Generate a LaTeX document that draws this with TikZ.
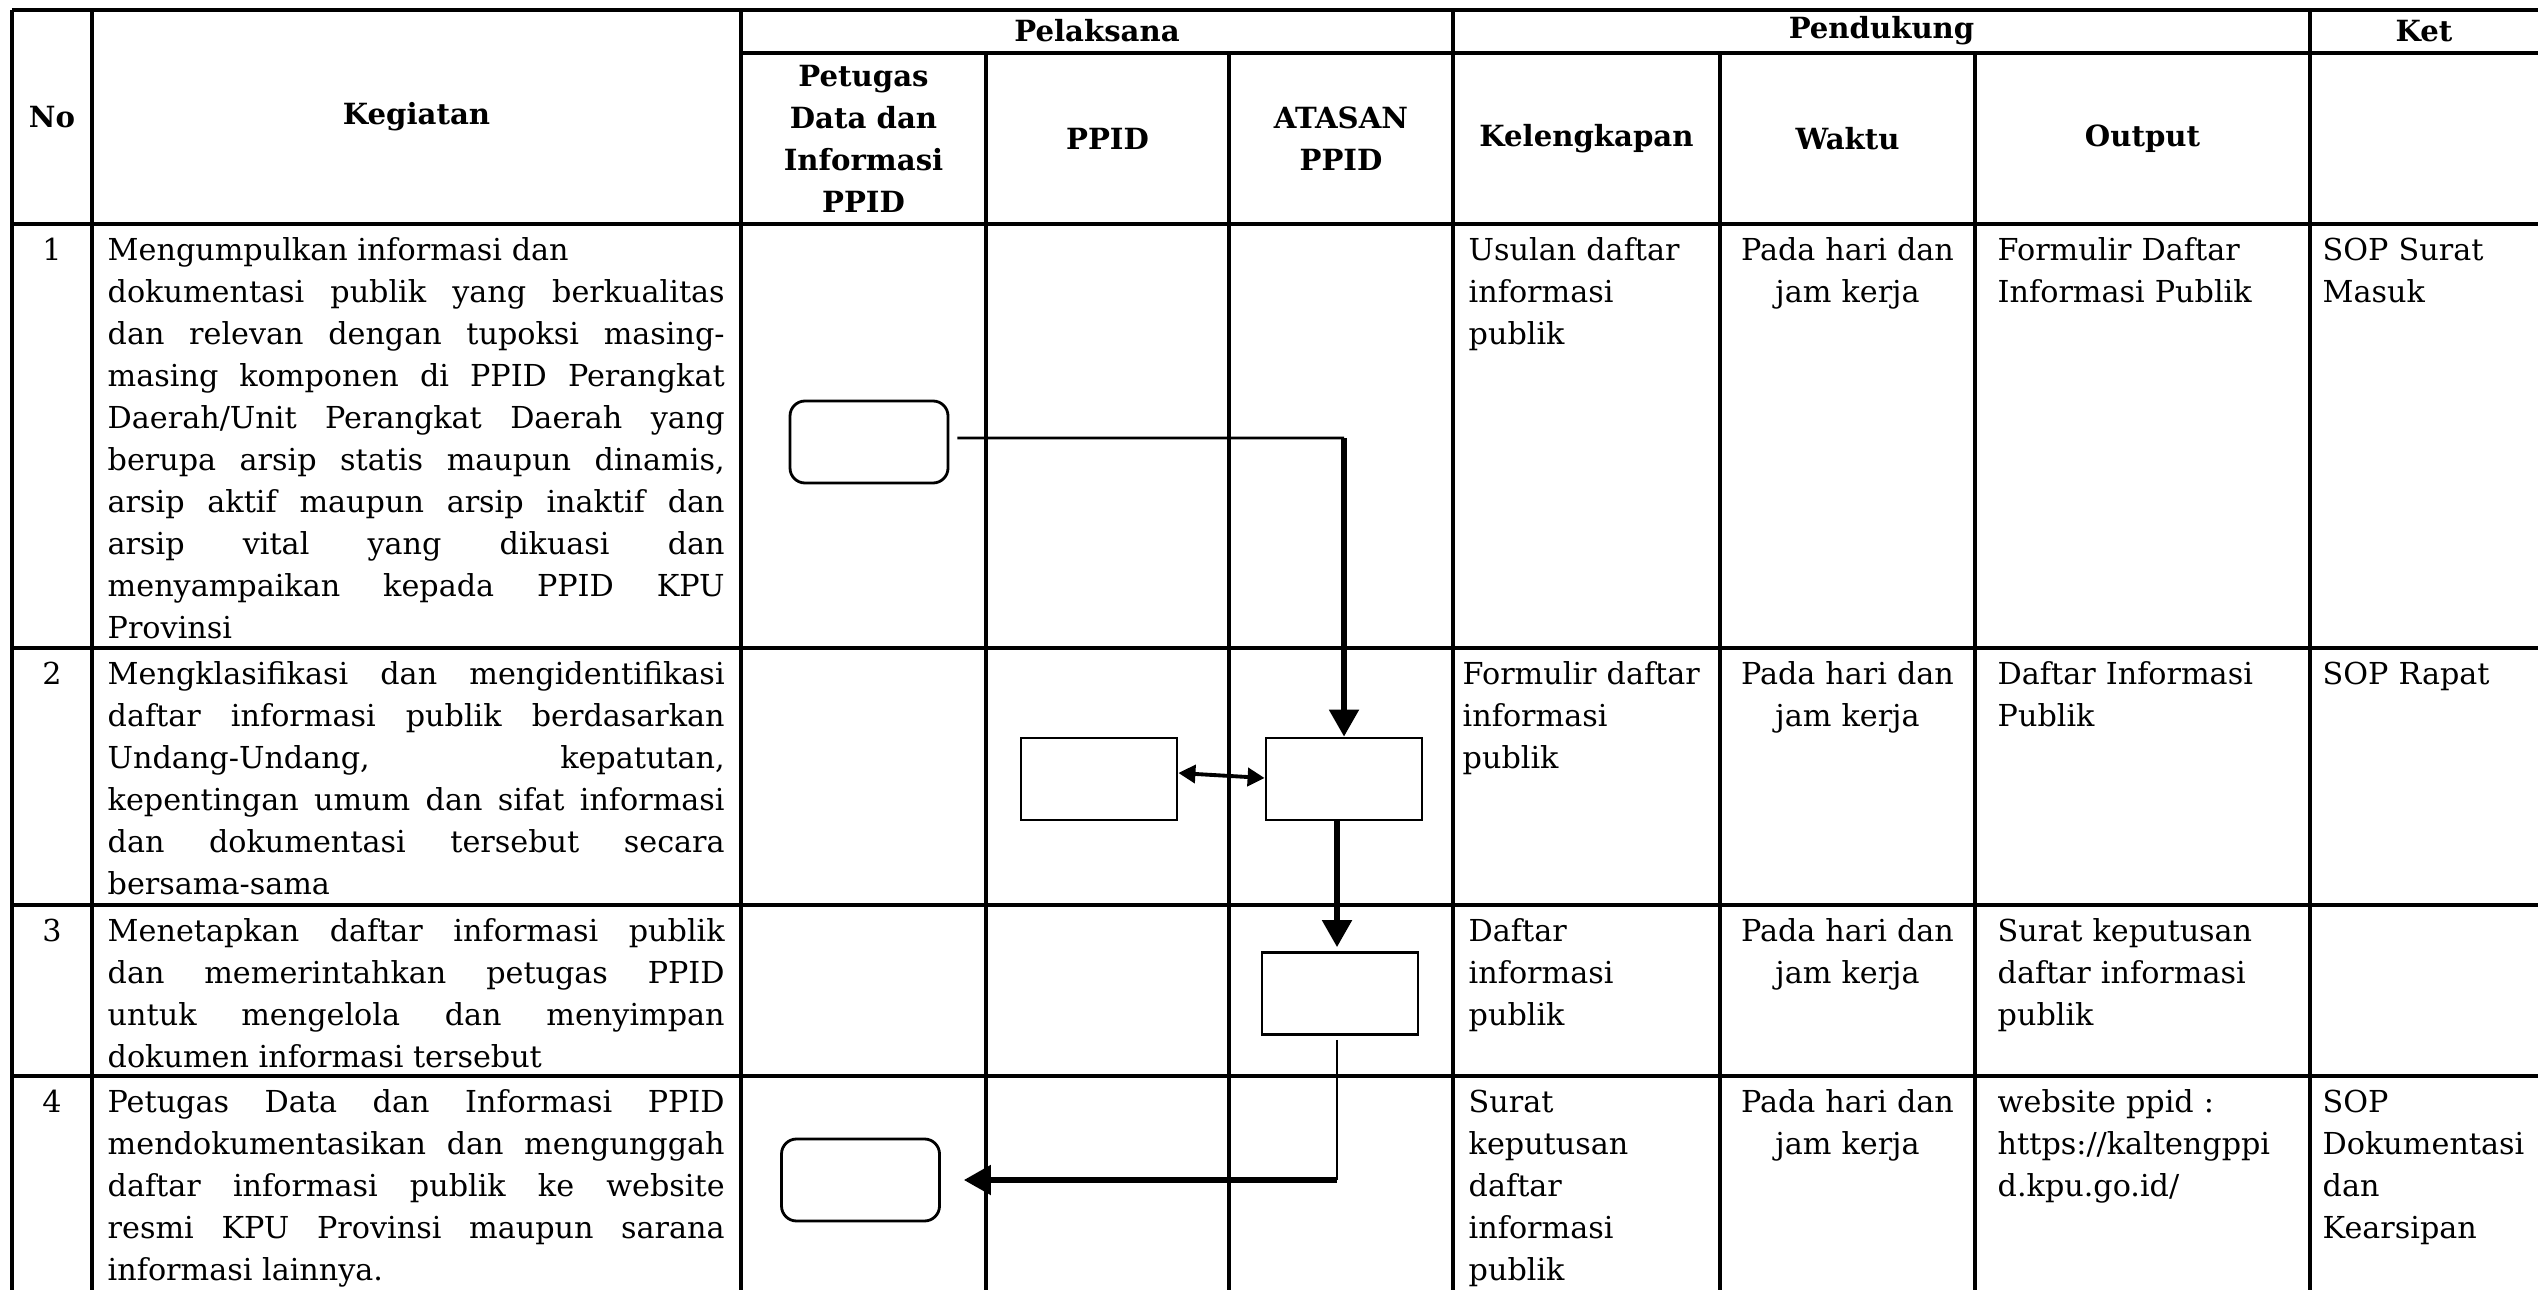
\documentclass[tikz,border=0pt]{standalone}
\usepackage{fontspec}
\setmainfont{DejaVu Serif}
\usetikzlibrary{arrows.meta}
\setlength{\parindent}{0pt}
\tolerance=10000
\hbadness=10000
\hyphenpenalty=10000

\newcommand{\hurufisi}{\fontsize{8.6}{11.95}\selectfont}
\newcommand{\hurufjudul}{\fontsize{8.3}{11.95}\selectfont\bfseries}

\tikzset{
  garis/.style={line width=0.9pt},
  judul/.style={font=\hurufjudul, align=center, inner sep=0pt},
  isi/.style={font=\hurufisi, anchor=north west, inner sep=0pt, align=left},
  rata/.style={isi, text width=6.17cm, align=justify},
  kotak/.style={draw, line width=0.8pt, minimum width=1.56cm, minimum height=0.82cm, inner sep=0pt},
  kotakbulat/.style={kotak, rounded corners=0.15cm, minimum width=1.58cm},
  tipis/.style={line width=0.8pt},
  tebal/.style={line width=1.5pt, -{Triangle[length=0.27cm, width=0.29cm]}},
  dua/.style={line width=1.1pt, {Triangle[length=0.17cm, width=0.18cm]}-{Triangle[length=0.17cm, width=0.18cm]}}
}

\begin{document}
\begin{tikzpicture}
\useasboundingbox (0,0) rectangle (25.38,12.90);

% garis tabel
\draw[garis] (0.12,12.80) -- (25.38,12.80);
\draw[garis] (7.41,12.37) -- (25.38,12.37);
\draw[garis] (0.12,10.66) -- (25.38,10.66);
\draw[garis] (0.12,6.42) -- (25.38,6.42);
\draw[garis] (0.12,3.85) -- (25.38,3.85);
\draw[garis] (0.12,2.14) -- (25.38,2.14);
\foreach \x in {0.12,0.92,7.41,14.53,23.10}
  \draw[garis] (\x,12.80) -- (\x,0);
\foreach \x in {9.86,12.29,17.20,19.75}
  \draw[garis] (\x,12.37) -- (\x,0);

% judul kolom
\node[judul] (hno) at (0.52,11.73) {No};
\node[judul] (hkeg) at (4.165,11.73) {Kegiatan};
\node[judul] (hpel) at (10.97,12.59) {Pelaksana};
\node[judul] (hpen) at (18.815,12.59) {Pendukung};
\node[judul] (hket) at (24.24,12.59) {Ket};
\node[judul] (hpet) at (8.635,11.515) {Petugas\\Data dan\\Informasi\\PPID};
\node[judul] (hppid) at (11.075,11.515) {PPID};
\node[judul] (hata) at (13.41,11.515) {ATASAN\\PPID};
\node[judul] (hlkp) at (15.865,11.515) {Kelengkapan};
\node[judul] (hwkt) at (18.475,11.515) {Waktu};
\node[judul] (hout) at (21.425,11.515) {Output};

% baris 1
\node[isi, anchor=north] (no1) at (0.52,10.595) {\strut 1};
\node[rata] (keg1) at (1.07,10.595) {\strut Mengumpulkan informasi dan\newline
dokumentasi publik yang berkualitas\linebreak
dan relevan dengan tupoksi masing-\linebreak
masing komponen di PPID Perangkat\linebreak
Daerah/Unit Perangkat Daerah yang\linebreak
berupa arsip statis maupun dinamis,\linebreak
arsip aktif maupun arsip inaktif dan\linebreak
arsip vital yang dikuasi dan\linebreak
menyampaikan kepada PPID KPU\linebreak
Provinsi};
\node[isi, text width=2.55cm] (lkp1) at (14.68,10.595) {\strut Usulan daftar\\informasi\\publik};
\node[isi, anchor=north, text width=2.5cm, align=center] (wkt1) at (18.475,10.595) {\strut Pada hari dan\\jam kerja};
\node[isi, text width=3.1cm] (out1) at (19.97,10.595) {\strut Formulir Daftar\\Informasi Publik};
\node[isi, text width=2.15cm] (ket1) at (23.22,10.595) {\strut SOP Surat\\Masuk};

% baris 2
\node[isi, anchor=north] (no2) at (0.52,6.355) {\strut 2};
\node[rata] (keg2) at (1.07,6.355) {\strut Mengklasifikasi dan mengidentifikasi\linebreak
daftar informasi publik berdasarkan\linebreak
Undang-Undang, kepatutan,\linebreak
kepentingan umum dan sifat informasi\linebreak
dan dokumentasi tersebut secara\linebreak
bersama-sama};
\node[isi, text width=2.55cm] (lkp2) at (14.62,6.355) {\strut Formulir daftar\\informasi\\publik};
\node[isi, anchor=north, text width=2.5cm, align=center] (wkt2) at (18.475,6.355) {\strut Pada hari dan\\jam kerja};
\node[isi, text width=3.1cm] (out2) at (19.97,6.355) {\strut Daftar Informasi\\Publik};
\node[isi, text width=2.15cm] (ket2) at (23.22,6.355) {\strut SOP Rapat};

% baris 3
\node[isi, anchor=north] (no3) at (0.52,3.785) {\strut 3};
\node[rata] (keg3) at (1.07,3.785) {\strut Menetapkan daftar informasi publik\linebreak
dan memerintahkan petugas PPID\linebreak
untuk mengelola dan menyimpan\linebreak
dokumen informasi tersebut};
\node[isi, text width=2.55cm] (lkp3) at (14.68,3.785) {\strut Daftar\\informasi\\publik};
\node[isi, anchor=north, text width=2.5cm, align=center] (wkt3) at (18.475,3.785) {\strut Pada hari dan\\jam kerja};
\node[isi, text width=3.1cm] (out3) at (19.97,3.785) {\strut Surat keputusan\\daftar informasi\\publik};

% baris 4
\node[isi, anchor=north] (no4) at (0.52,2.075) {\strut 4};
\node[rata] (keg4) at (1.07,2.075) {\strut Petugas Data dan Informasi PPID\linebreak
mendokumentasikan dan mengunggah\linebreak
daftar informasi publik ke website\linebreak
resmi KPU Provinsi maupun sarana\linebreak
informasi lainnya.};
\node[isi, text width=2.55cm] (lkp4) at (14.68,2.075) {\strut Surat\\keputusan\\daftar\\informasi\\publik};
\node[isi, anchor=north, text width=2.5cm, align=center] (wkt4) at (18.475,2.075) {\strut Pada hari dan\\jam kerja};
\node[isi, text width=3.1cm] (out4) at (19.97,2.075) {\strut website ppid :\\https://kaltengppi\\d.kpu.go.id/};
\node[isi, text width=2.15cm] (ket4) at (23.22,2.075) {\strut SOP\\Dokumentasi\\dan\\Kearsipan};

% bagan alir
\node[kotakbulat] (mulai) at (8.69,8.48) {};
\node[kotak] (ppid2) at (10.99,5.11) {};
\node[kotak] (atasan2) at (13.44,5.11) {};
\node[kotak] (atasan3) at (13.40,2.965) {};
\node[kotakbulat] (selesai) at (8.605,1.10) {};

\coordinate (b1) at (13.44,8.52);
\coordinate (b2) at (13.37,1.10);
\draw[tipis] ([xshift=0.08cm,yshift=0.04cm]mulai.east) -- (b1);
\draw[tebal] (b1) -- (b1 |- atasan2.north);
\draw[dua] ([yshift=0.06cm]ppid2.east) -- ([yshift=0.01cm]atasan2.west);
\draw[tebal] (atasan2.south -| b2) -- ([yshift=0.04cm]atasan3.north -| b2);
\draw[tipis] ([yshift=-0.04cm]atasan3.south -| b2) -- (b2);
\draw[tebal] (b2) -- ([xshift=0.23cm]selesai.east);
\end{tikzpicture}
\end{document}
